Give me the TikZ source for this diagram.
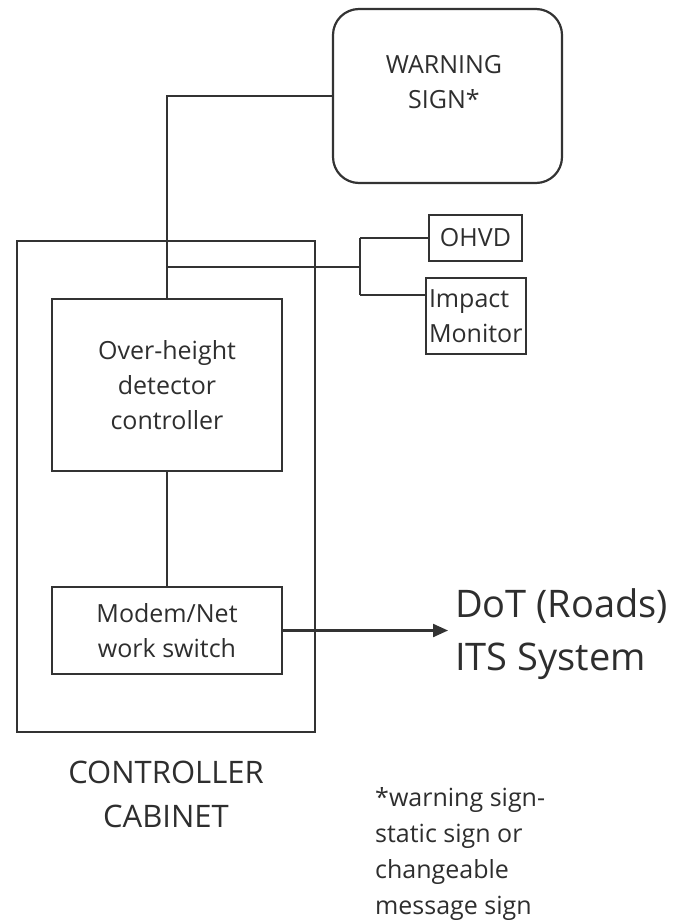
\documentclass[tikz,border=0pt]{standalone}
\usepackage{fontspec}
\setmainfont{Open Sans}
\usetikzlibrary{arrows.meta}
\definecolor{ln}{HTML}{333333}
\definecolor{tx}{HTML}{2E2E2E}
\tikzset{
  box/.style={draw=ln, line width=2.2pt, rectangle, inner sep=0pt, text=tx},
  wire/.style={draw=ln, line width=2.2pt},
  txt/.style={text=tx, inner sep=0pt},
  f25/.style={font=\fontsize{25}{35}\selectfont},
}
\begin{document}
\begin{tikzpicture}[x=1pt,y=-1pt]
\useasboundingbox (0,0) rectangle (674,920);
% warning sign
\node[box, rounded corners=26pt, minimum width=229pt, minimum height=174pt] (ws) at (447.5,96) {};
\node[txt, f25, align=center] (wst) at (444,82) {WARNING\\SIGN*};
% cabinet
\node[box, minimum width=298pt, minimum height=491pt] (cab) at (166,486.5) {};
% controller
\node[box, f25, align=center, minimum width=230pt, minimum height=172pt] (odhc) at (167,385) {Over-height\\detector\\controller};
% modem
\node[box, f25, align=center, minimum width=230pt, minimum height=87pt] (modem) at (167,630.5) {Modem/Net\\work switch};
% OHVD and impact monitor
\node[box, f25, minimum width=93pt, minimum height=46pt] (ohvd) at (475.5,238) {OHVD};
\node[box, f25, align=left, text width=94pt, inner xsep=3pt, minimum height=76pt] (imp) at (476,316) {Impact\\Monitor};
% DoT
\node[txt, font=\fontsize{38}{53}\selectfont, align=left, anchor=west] (dot) at (455,634) {DoT (Roads)\\ITS System};
% labels
\node[txt, font=\fontsize{31}{44}\selectfont, align=center] (cabl) at (166,794) {CONTROLLER\\CABINET};
\node[txt, font=\fontsize{25}{36}\selectfont, align=left, anchor=north west] (note) at (375,787) {*warning sign-\\static sign or\\changeable\\message sign};
% connectors
\draw[wire] (ws.west) -| (odhc.north);
\coordinate (t) at (odhc.north |- 0,267);
\coordinate (j) at (360,267);
\draw[wire] (t) -- (j);
\draw[wire] (j |- ohvd.west) -- (ohvd.west);
\draw[wire] (j |- 0,295) -- (imp.west |- 0,295);
\draw[wire] (j |- ohvd.west) -- (j |- 0,295);
\draw[wire] (odhc.south) -- (modem.north);
\draw[wire, -{Triangle[length=15pt,width=13pt]}] (modem.east) -- ([xshift=-7pt]modem.east -| dot.west);
\end{tikzpicture}
\end{document}
